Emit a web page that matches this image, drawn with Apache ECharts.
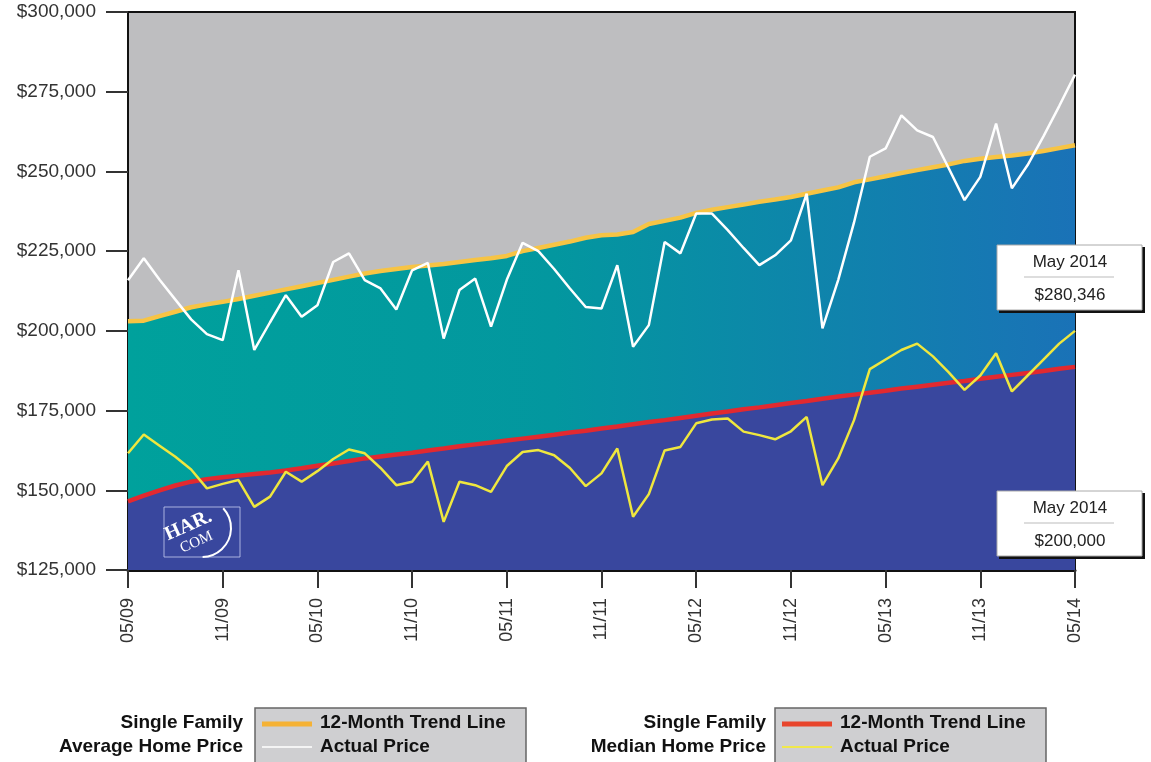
<!DOCTYPE html>
<html>
<head>
<meta charset="utf-8">
<script src="https://cdn.jsdelivr.net/npm/echarts@6/dist/echarts.min.js"></script>
<style>
html,body{margin:0;padding:0;background:#fff;}
#chart{width:1151px;height:762px;}
</style>
</head>
<body>
<div id="chart"></div>
<script>
// Month categories 05/09 .. 05/14
const categories = [];
for (let k = 0; k <= 60; k++) {
  const m = ((4 + k) % 12) + 1;
  const y = 9 + Math.floor((4 + k) / 12);
  categories.push((m < 10 ? '0' + m : '' + m) + '/' + (y < 10 ? '0' + y : '' + y));
}

const avgActual = [
  215900, 222800, 216000, 209800, 203600, 199000, 197100, 219000, 194000, 202700,
  211200, 204400, 208000, 221600, 224300, 215900, 213300, 206700, 219000, 221300,
  197600, 212800, 216400, 201300, 216000, 227600, 225000, 219400, 213300, 207500,
  207000, 220600, 195000, 201800, 227900, 224300, 236800, 236800, 231600, 226000,
  220600, 223700, 228400, 243000, 200800, 216000, 234000, 254600, 257200, 267600,
  262900, 260800, 251000, 241000, 248300, 265000, 244700, 252000, 261000, 270500,
  280346
];

const avgTrend = [
  203000, 203200, 204600, 206000, 207400, 208300, 209100, 210000, 211000, 212000,
  213000, 214000, 215000, 216000, 217000, 218000, 218800, 219400, 220000, 220500,
  221000, 221600, 222200, 222800, 223500, 225000, 226000, 227000, 228000, 229200,
  230000, 230200, 231000, 233500, 234500, 235500, 237000, 238000, 238800, 239600,
  240500, 241200, 242000, 243000, 244000, 245000, 246600, 247500, 248500, 249500,
  250400, 251300, 252200, 253300, 254000, 254500, 255000, 255600, 256400, 257300,
  258200
];

const medActual = [
  161600, 167500, 164000, 160500, 156500, 150600, 152000, 153200, 144800, 148000,
  155800, 152700, 156000, 159800, 162800, 161600, 157000, 151600, 152700, 159000,
  140100, 152700, 151600, 149500, 157600, 162000, 162600, 161000, 157000, 151300,
  155300, 163100, 141700, 148800, 162500, 163600, 171000, 172200, 172500, 168400,
  167300, 166000, 168500, 173000, 151600, 160000, 172000, 188000, 191000, 194000,
  196000, 192000, 187000, 181500, 186000, 193000, 181000, 186000, 191000, 196000,
  200000
];

const medTrend = [
  146500, 148300, 150000, 151500, 152700, 153500, 154100, 154600, 155100, 155600,
  156200, 156900, 157700, 158400, 159200, 160000, 160600, 161200, 161800, 162500,
  163100, 163800, 164400, 165000, 165600, 166200, 166800, 167400, 168100, 168700,
  169400, 170000, 170700, 171400, 172000, 172700, 173400, 174100, 174700, 175400,
  176000, 176700, 177400, 178000, 178700, 179400, 180000, 180600, 181200, 181900,
  182500, 183100, 183700, 184300, 185000, 185600, 186200, 186800, 187400, 188100,
  188700
];

const yTicks = { min: 125000, max: 300000, step: 25000 };

const legendLeft = { title: ['Single Family', 'Average Home Price'], items: ['12-Month Trend Line', 'Actual Price'] };
const legendRight = { title: ['Single Family', 'Median Home Price'], items: ['12-Month Trend Line', 'Actual Price'] };

function money(v) {
  return '$' + String(Math.round(v)).replace(/\B(?=(\d{3})+(?!\d))/g, ',');
}

const FONT = '"Liberation Sans", Arial, sans-serif';
const SERIF = '"Liberation Serif", "DejaVu Serif", serif';
const chart = echarts.init(document.getElementById('chart'), null, { renderer: 'canvas' });

function annotBox(top, label, value) {
  return [
    { type: 'rect', shape: { x: 999, y: top + 2, width: 146, height: 66 }, style: { fill: '#111' }, z: 100 },
    { type: 'rect', shape: { x: 997, y: top, width: 145, height: 65 }, style: { fill: '#fff', stroke: '#aaa', lineWidth: 1 }, z: 101 },
    { type: 'text', x: 1070, y: top + 17, style: { text: label, fill: '#222', font: '17px ' + FONT, align: 'center', verticalAlign: 'middle' }, z: 102 },
    { type: 'line', shape: { x1: 1024, y1: top + 32, x2: 1114, y2: top + 32 }, style: { stroke: '#bbb', lineWidth: 1 }, z: 102 },
    { type: 'text', x: 1070, y: top + 50, style: { text: value, fill: '#222', font: '17px ' + FONT, align: 'center', verticalAlign: 'middle' }, z: 102 }
  ];
}

function legendGroup(rightX, boxX, titles, items, c1, c2) {
  const bold = 'bold 19px ' + FONT;
  return [
    { type: 'text', x: rightX, y: 723, style: { text: titles[0], fill: '#111', font: bold, align: 'right', verticalAlign: 'middle' } },
    { type: 'text', x: rightX, y: 747, style: { text: titles[1], fill: '#111', font: bold, align: 'right', verticalAlign: 'middle' } },
    { type: 'rect', shape: { x: boxX, y: 708, width: 271, height: 60 }, style: { fill: '#cfcfd1', stroke: '#666', lineWidth: 1.5 } },
    { type: 'line', shape: { x1: boxX + 7, y1: 724, x2: boxX + 57, y2: 724 }, style: { stroke: c1, lineWidth: 5 } },
    { type: 'line', shape: { x1: boxX + 7, y1: 747, x2: boxX + 57, y2: 747 }, style: { stroke: c2, lineWidth: 2 } },
    { type: 'text', x: boxX + 65, y: 723, style: { text: items[0], fill: '#111', font: bold, align: 'left', verticalAlign: 'middle' } },
    { type: 'text', x: boxX + 65, y: 747, style: { text: items[1], fill: '#111', font: bold, align: 'left', verticalAlign: 'middle' } }
  ];
}

const logo = [
  { type: 'rect', shape: { x: 164, y: 507, width: 76, height: 50 }, style: { fill: 'none', stroke: 'rgba(190,196,235,0.85)', lineWidth: 1 }, z: 90 },
  { type: 'text', x: 170, y: 545, rotation: 0.42, style: { text: 'HAR.', fill: '#fff', font: 'bold 20px ' + SERIF, verticalAlign: 'bottom' }, z: 90 },
  { type: 'text', x: 184, y: 556, rotation: 0.42, style: { text: 'COM', fill: '#fff', font: '15px ' + SERIF, verticalAlign: 'bottom' }, z: 90 },
  { type: 'arc', shape: { cx: 202, cy: 528, r: 29, startAngle: -0.75, endAngle: 1.55 }, style: { stroke: '#fff', lineWidth: 2, fill: null }, z: 90 }
];

const option = {
  animation: false,
  backgroundColor: '#fff',
  grid: { left: 128, right: 76, top: 12, bottom: 192, show: true, backgroundColor: '#bebec0', borderColor: '#111', borderWidth: 2 },
  xAxis: {
    type: 'category', data: categories, boundaryGap: false,
    axisLine: { lineStyle: { color: '#111', width: 3 } },
    axisTick: { show: true, interval: 5, length: 18, lineStyle: { color: '#333', width: 2 } },
    axisLabel: { interval: 5, rotate: 90, margin: 28, fontSize: 18, color: '#333', fontFamily: FONT },
    splitLine: { show: false }
  },
  yAxis: {
    type: 'value', min: yTicks.min, max: yTicks.max, interval: yTicks.step,
    axisLine: { show: true, lineStyle: { color: '#111', width: 2 } },
    axisTick: { show: true, length: 22, lineStyle: { color: '#333', width: 2 } },
    axisLabel: { margin: 32, fontSize: 19, color: '#333', fontFamily: FONT, formatter: money },
    splitLine: { show: false }
  },
  series: [
    {
      name: 'Average Trend', type: 'line', data: avgTrend, symbol: 'none', z: 2,
      lineStyle: { color: '#f7c444', width: 4.5 },
      areaStyle: {
        origin: 'start', opacity: 1,
        color: new echarts.graphic.LinearGradient(0, 0, 1, 0, [
          { offset: 0, color: '#00a19c' },
          { offset: 0.45, color: '#03979f' },
          { offset: 1, color: '#1a72b7' }
        ])
      }
    },
    {
      name: 'Median Trend', type: 'line', data: medTrend, symbol: 'none', z: 3,
      lineStyle: { color: '#e2292f', width: 4.5 },
      areaStyle: { origin: 'start', opacity: 1, color: '#39479e' }
    },
    {
      name: 'Average Actual', type: 'line', data: avgActual, symbol: 'none', z: 4,
      lineStyle: { color: '#ffffff', width: 2.5 }
    },
    {
      name: 'Median Actual', type: 'line', data: medActual, symbol: 'none', z: 4,
      lineStyle: { color: '#efe73e', width: 2.5 }
    }
  ],
  graphic: [].concat(
    annotBox(245, 'May 2014', money(avgActual[avgActual.length - 1])),
    annotBox(491, 'May 2014', money(medActual[medActual.length - 1])),
    legendGroup(243, 255, legendLeft.title, legendLeft.items, '#f5b235', '#f4f4f4'),
    legendGroup(766, 775, legendRight.title, legendRight.items, '#e8452c', '#f0e84a'),
    logo
  )
};

chart.setOption(option);
</script>
</body>
</html>
